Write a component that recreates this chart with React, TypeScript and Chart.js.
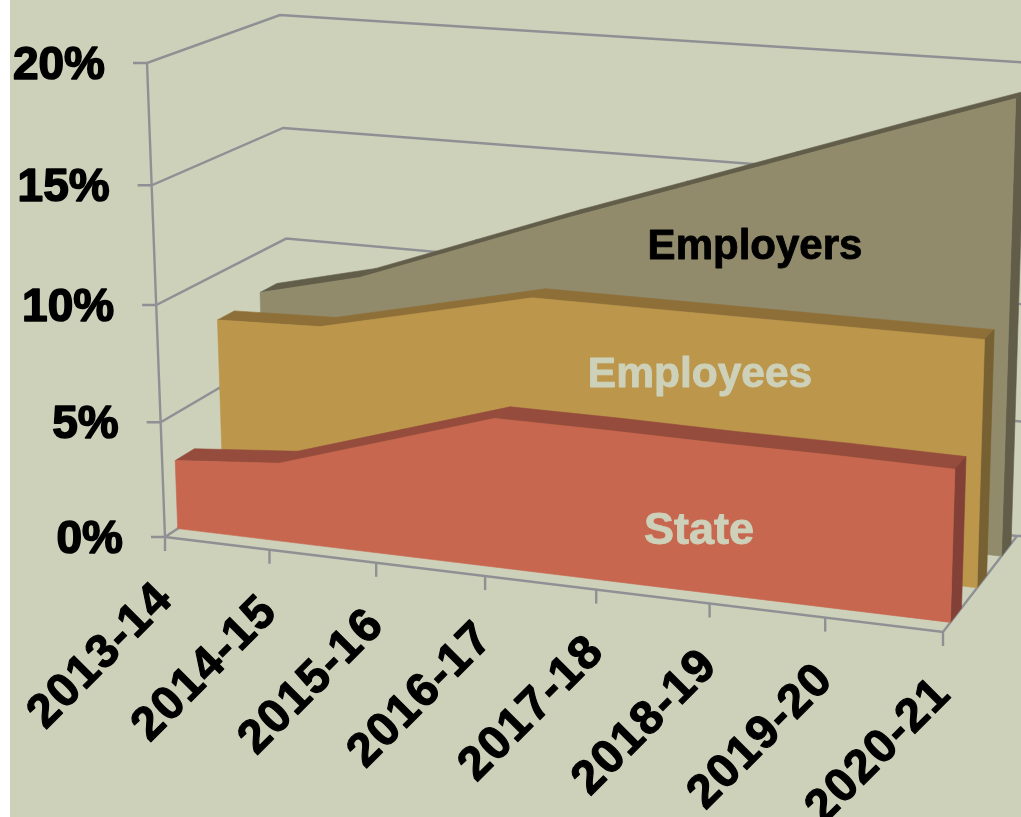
import React, { useEffect, useRef } from "react";
import { Chart, registerables } from "chart.js";

Chart.register(...registerables);

const categories = ["2013-14", "2014-15", "2015-16", "2016-17", "2017-18", "2018-19", "2019-20", "2020-21"];
const stateValues = [3.0, 3.4, 4.85, 6.3, 6.3, 6.25, 6.25, 6.2];
const employeeValues = [8.0, 8.15, 9.2, 10.25, 10.25, 10.25, 10.25, 10.25];
const employerValues = [8.2, 9.3, 11.0, 12.7, 14.3, 15.9, 17.5, 19.05];
const yTicks = { min: 0, max: 20, step: 5 };

const BG = "#CDD1BA";
const GRID = "#8F9094";
const FONT = '"Liberation Sans", Arial, sans-serif';

type Style = { label: string; front: string; top: string; side: string; depth: [number, number]; text: string; at: [number, number]; size: number };
const seriesStyles: Style[] = [
  { label: "Employers", front: "#918B6C", top: "#625D49", side: "#625D49", depth: [0.79, 0.92], text: "#000000", at: [755, 247], size: 42 },
  { label: "Employees", front: "#BC964B", top: "#8E6F38", side: "#776031", depth: [0.46, 0.59], text: BG, at: [700, 375], size: 42.5 },
  { label: "State", front: "#C8674F", top: "#954C3C", side: "#824037", depth: [0.1, 0.25], text: BG, at: [699, 532], size: 45 },
];

const C = {
  FLB: [165, 537], FLT: [147, 63], BLB: [292, 453], BLT: [280, 15],
  FRB: [943, 632], FRT: [958, 119], BRB: [1017, 536], BRT: [1032, 63],
};
const FORESHORTEN_X = 0.07;
const FORESHORTEN_Y = 0.042;
const mix = (a: number[], b: number[], t: number) => [a[0] + (b[0] - a[0]) * t, a[1] + (b[1] - a[1]) * t];
function project(u: number, v: number, d: number) {
  const uu = u + FORESHORTEN_X * (u * u - u);
  const vv = v + FORESHORTEN_Y * (v * v - v);
  const front = mix(mix(C.FLB, C.FRB, uu), mix(C.FLT, C.FRT, uu), vv);
  const back = mix(mix(C.BLB, C.BRB, uu), mix(C.BLT, C.BRT, uu), vv);
  return mix(front, back, d);
}

function poly(ctx: CanvasRenderingContext2D, pts: number[][], color: string) {
  ctx.beginPath();
  pts.forEach((p, i) => (i ? ctx.lineTo(p[0], p[1]) : ctx.moveTo(p[0], p[1])));
  ctx.closePath();
  ctx.fillStyle = color;
  ctx.fill();
  ctx.strokeStyle = color;
  ctx.lineWidth = 0.6;
  ctx.stroke();
}
function line(ctx: CanvasRenderingContext2D, pts: number[][]) {
  ctx.beginPath();
  pts.forEach((p, i) => (i ? ctx.lineTo(p[0], p[1]) : ctx.moveTo(p[0], p[1])));
  ctx.strokeStyle = GRID;
  ctx.lineWidth = 2.4;
  ctx.stroke();
}
function heavyText(ctx: CanvasRenderingContext2D, s: string, x: number, y: number, color: string, w: number) {
  ctx.fillStyle = color;
  ctx.strokeStyle = color;
  ctx.lineWidth = w;
  ctx.lineJoin = "round";
  ctx.fillText(s, x, y);
  ctx.strokeText(s, x, y);
}

const bgPlugin = {
  id: "bg3d",
  beforeDraw(chart: any) {
    const { ctx, width, height } = chart;
    ctx.save();
    ctx.fillStyle = "#FFFFFF";
    ctx.fillRect(0, 0, width, height);
    ctx.fillStyle = BG;
    ctx.fillRect(10, 0, width - 10, height);
    ctx.restore();
  },
};

const area3dPlugin = {
  id: "area3d",
  afterDatasetsDraw(chart: any) {
    const { ctx } = chart;
    const xs = chart.scales.x;
    const ys = chart.scales.y;
    const uOf = (i: number) => (xs.getPixelForValue(i) - xs.left) / xs.width;
    const vOf = (val: number) => (ys.bottom - ys.getPixelForValue(val)) / ys.height;
    ctx.save();
    ctx.lineCap = "butt";

    // walls and floor
    ys.ticks.forEach((t: any) => {
      const v = vOf(t.value);
      const a = project(0, v, 0);
      line(ctx, [[a[0] - 14, a[1]], a, project(0, v, 1), project(1, v, 1), [1021, project(1, v, 1)[1]]]);
    });
    line(ctx, [project(0, 0, 0), project(0, 1, 0)]);
    line(ctx, [project(0, 0, 0), project(1, 0, 0), project(1, 0, 1)]);
    xs.ticks.forEach((_: any, i: number) => {
      const p = project(uOf(i), 0, 0);
      line(ctx, [p, [p[0], p[1] + 14]]);
    });

    // series, back to front
    chart.data.datasets.forEach((ds: any, k: number) => {
      const st = seriesStyles[k];
      const [d0, d1] = st.depth;
      const vals: number[] = ds.data;
      for (let i = 0; i < vals.length - 1; i++) {
        poly(ctx, [
          project(uOf(i), vOf(vals[i]), d0),
          project(uOf(i + 1), vOf(vals[i + 1]), d0),
          project(uOf(i + 1), vOf(vals[i + 1]), d1),
          project(uOf(i), vOf(vals[i]), d1),
        ], st.top);
      }
      const n = vals.length - 1;
      poly(ctx, [
        project(uOf(n), vOf(0), d0),
        project(uOf(n), vOf(vals[n]), d0),
        project(uOf(n), vOf(vals[n]), d1),
        project(uOf(n), vOf(0), d1),
      ], st.side);
      const frontPts = vals.map((val, i) => project(uOf(i), vOf(val), d0));
      poly(ctx, [project(uOf(0), vOf(0), d0), ...frontPts, project(uOf(n), vOf(0), d0)], st.front);
    });

    // value-axis labels
    ctx.textBaseline = "middle";
    ctx.textAlign = "right";
    ctx.font = `bold 46px ${FONT}`;
    ys.ticks.forEach((t: any) => {
      const a = project(0, vOf(t.value), 0);
      heavyText(ctx, `${t.value}%`, a[0] - 42, a[1] + 3, "#000000", 1.6);
    });

    // category labels
    ctx.font = `bold 47px ${FONT}`;
    (ctx as any).letterSpacing = "1.5px";
    xs.ticks.forEach((_: any, i: number) => {
      const p = project(uOf(i), 0, 0);
      ctx.save();
      ctx.translate(p[0] - 16, p[1] + 38);
      ctx.rotate(-Math.PI / 4);
      ctx.textBaseline = "top";
      heavyText(ctx, xs.getLabelForValue(i), 0, 0, "#000000", 1.2);
      ctx.restore();
    });
    (ctx as any).letterSpacing = "0px";

    // series labels
    ctx.textAlign = "center";
    ctx.textBaseline = "middle";
    chart.data.datasets.forEach((ds: any, k: number) => {
      const st = seriesStyles[k];
      ctx.font = `bold ${st.size}px ${FONT}`;
      heavyText(ctx, ds.label, st.at[0], st.at[1], st.text, 0.9);
    });
    ctx.restore();
  },
};

export default function App() {
  const ref = useRef<HTMLCanvasElement>(null);
  useEffect(() => {
    const chart = new Chart(ref.current as HTMLCanvasElement, {
      type: "line",
      data: {
        labels: categories,
        datasets: [
          { label: "Employers", data: employerValues, showLine: false, pointRadius: 0 },
          { label: "Employees", data: employeeValues, showLine: false, pointRadius: 0 },
          { label: "State", data: stateValues, showLine: false, pointRadius: 0 },
        ],
      },
      options: {
        animation: false,
        responsive: false,
        devicePixelRatio: 1,
        plugins: { legend: { display: false }, tooltip: { enabled: false } },
        scales: {
          x: { type: "category", display: false, offset: false },
          y: { display: false, min: yTicks.min, max: yTicks.max, ticks: { stepSize: yTicks.step } },
        },
      },
      plugins: [bgPlugin, area3dPlugin],
    } as any);
    return () => chart.destroy();
  }, []);
  return (
    <div style={{ position: "fixed", left: 0, top: 0, width: 1021, height: 817 }}>
      <canvas ref={ref} width={1021} height={817} style={{ display: "block" }} />
    </div>
  );
}
